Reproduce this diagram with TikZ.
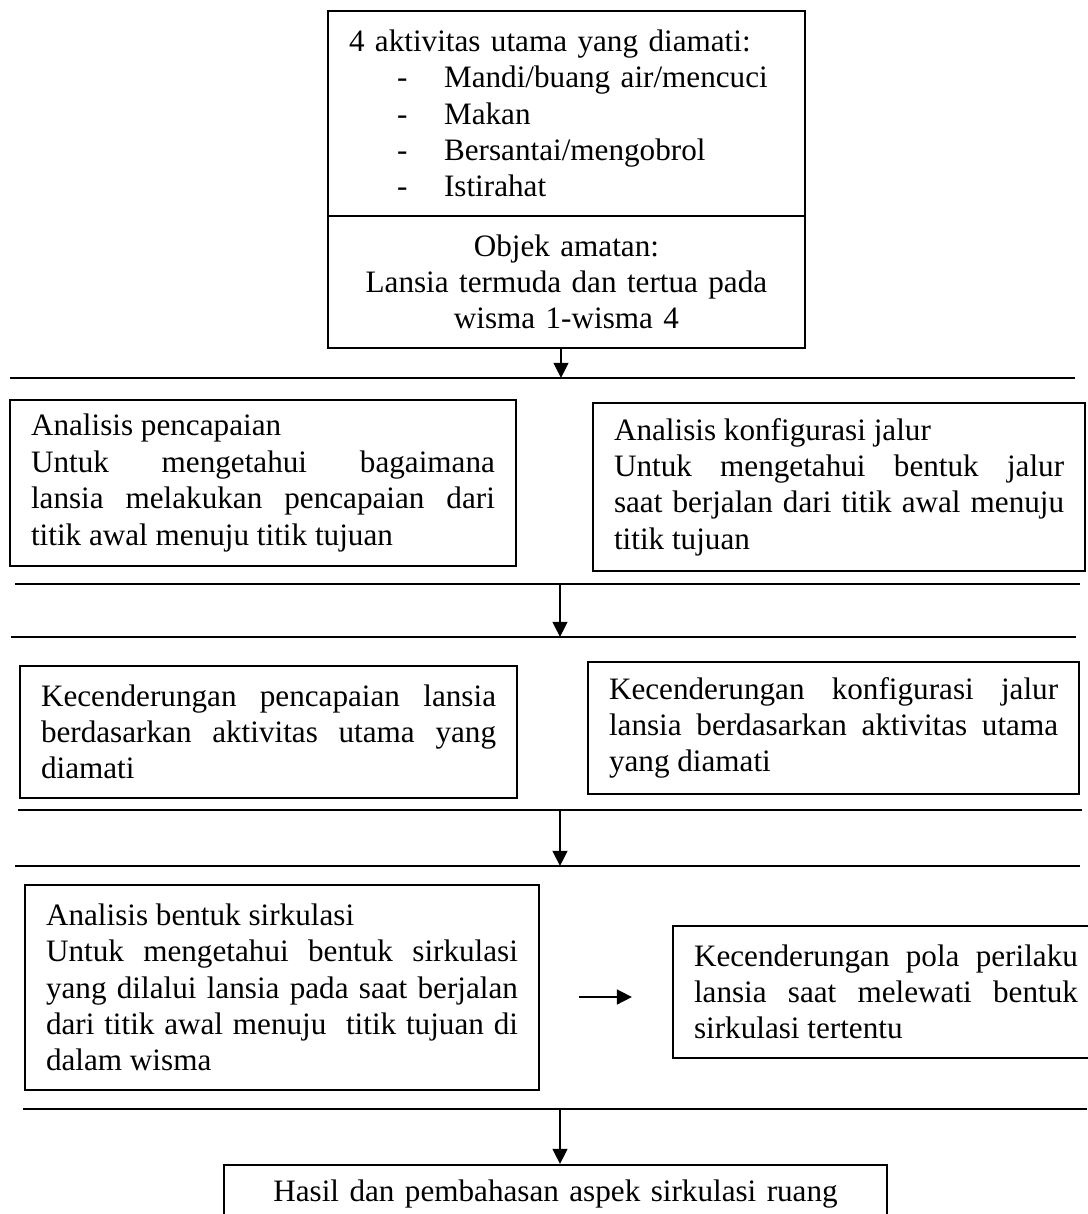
\documentclass[tikz,border=0pt]{standalone}
\usepackage{fontspec}
\setmainfont{Liberation Serif}
\usetikzlibrary{arrows.meta, positioning, calc}

% one entry of the dashed list in the top box
\newcommand{\dashitem}[1]{\hspace*{18.5pt}\makebox[18.1pt][l]{-}#1}

\begin{document}
\begin{tikzpicture}[x=0.385pt, y=-0.385pt,
    box/.style={draw, line width=0.75pt, anchor=north west, inner xsep=8.1pt,
                inner ysep=0pt, font=\fontsize{12}{14}\selectfont},
    para/.style={box, align=justify},
    arr/.style={-{Triangle[length=5.8pt, width=5.6pt]}, line width=0.95pt},
    rule/.style={line width=0.75pt}]

    \useasboundingbox (0,0) rectangle (1087,1214);

    % Activities and observed subjects
    \node[box, align=left, text width=167.4pt, minimum height=78.9pt] (aktivitas) at (327,10) {
      4 aktivitas utama yang diamati:\\
      \dashitem{Mandi/buang air/mencuci}\\
      \dashitem{Makan}\\
      \dashitem{Bersantai/mengobrol}\\
      \dashitem{Istirahat}
    };
    \node[box, align=center, text width=167.4pt, minimum height=50.8pt] (objek) at (327,215) {
      Objek amatan:\\
      Lansia termuda dan tertua pada\\
      wisma 1-wisma 4
    };

    % Separating rules, with the points where the arrows meet them
    \draw[rule] (10,378) -- (1075,378);
    \draw[rule] (15,584) -- (1080,584);
    \draw[rule] (11,637) -- (1076,637);
    \draw[rule] (18,810) -- (1082,810);
    \draw[rule] (15,866) -- (1080,866);
    \draw[rule] (23,1109) -- (1087,1109);
    \coordinate (l1) at (561,378);
    \coordinate (l2) at (560,584);
    \coordinate (l3) at (560,637);
    \coordinate (l4) at (560,810);
    \coordinate (l5) at (560,866);
    \coordinate (l6) at (560,1109);

    % Analysis
    \node[para, text width=178.6pt, minimum height=63.9pt] (pencapaian) at (9,399) {
      Analisis pencapaian\\
      Untuk mengetahui bagaimana\linebreak
      lansia melakukan pencapaian dari\linebreak
      titik awal menuju titik tujuan
    };
    \node[para, text width=173.3pt, minimum height=64.7pt] (konfigurasi) at (592,402) {
      Analisis konfigurasi jalur\\
      Untuk mengetahui bentuk jalur\linebreak
      saat berjalan dari titik awal menuju\linebreak
      titik tujuan
    };

    % Tendencies
    \node[para, text width=175.2pt, minimum height=50.8pt] (kecPencapaian) at (19,665) {
      Kecenderungan pencapaian lansia\linebreak
      berdasarkan aktivitas utama yang\linebreak
      diamati
    };
    \node[para, text width=172.9pt, minimum height=50.8pt] (kecKonfigurasi) at (587,661) {
      Kecenderungan konfigurasi jalur\linebreak
      lansia berdasarkan aktivitas utama\linebreak
      yang diamati
    };

    % Circulation
    \node[para, text width=181.7pt, minimum height=78.9pt] (sirkulasi) at (24,884) {
      Analisis bentuk sirkulasi\\
      Untuk mengetahui bentuk sirkulasi\linebreak
      yang dilalui lansia pada saat berjalan\linebreak
      dari titik awal menuju\ \ titik tujuan di\linebreak
      dalam wisma
    };
    \node[para, text width=147.8pt, minimum height=50.8pt] (pola) at (672,925) {
      Kecenderungan pola perilaku\linebreak
      lansia saat melewati bentuk\linebreak
      sirkulasi tertentu
    };
    \coordinate (arrowrow) at (600,997);

    % Result
    \node[box, align=center, text width=239.1pt, minimum height=22.3pt] (hasil) at (223,1164) {
      Hasil dan pembahasan aspek sirkulasi ruang
    };

    % Arrows
    \draw[arr] (l1 |- objek.south) -- (l1);
    \draw[arr] (l2) -- (l3);
    \draw[arr] (l4) -- (l5);
    \draw[arr] (l6) -- (l6 |- hasil.north);
    \draw[arr, line width=1.1pt, shorten <=15pt, shorten >=15.4pt] (sirkulasi.east |- arrowrow) -- (pola.west |- arrowrow);

\end{tikzpicture}
\end{document}
